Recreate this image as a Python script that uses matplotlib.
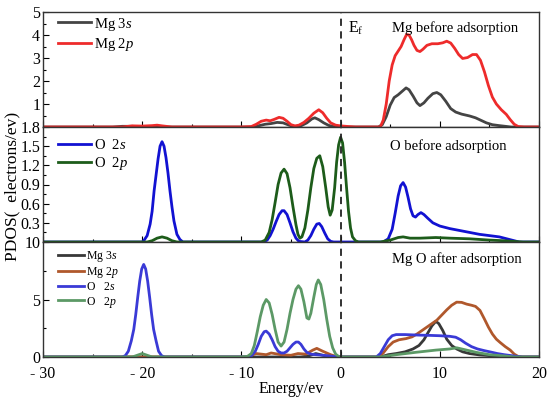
import matplotlib
matplotlib.use("Agg")
import matplotlib.pyplot as plt
from matplotlib.ticker import MultipleLocator

plt.rcParams['font.family'] = ['Liberation Serif', 'DejaVu Serif']
plt.rcParams['mathtext.fontset'] = 'custom'
plt.rcParams['mathtext.rm'] = 'Liberation Serif'
plt.rcParams['mathtext.it'] = 'Liberation Serif:italic'

# ---------------- data ----------------
# Panel 1: Mg before adsorption
mg3s_before_x = [-30, -23, -22, -21, -20, -12, -9, -8.3, -7.6, -7.0, -6.4, -5.8, -5.2, -4.6, -4.0, -3.4, -2.9, -2.6, -2.2, -1.7, -1.2, -0.6, 0,
                 3.8, 4.2, 4.6, 5.0, 5.4, 5.8, 6.2, 6.6, 6.9, 7.3, 7.7, 8.0, 8.4, 8.8, 9.3, 9.7, 10.1, 10.6, 11.1, 11.6, 12.2,
                 13.0, 13.6, 14.2, 14.7, 15.3, 16.0, 16.6, 17.2, 20]
mg3s_before_y = [0, 0, 0.03, 0.03, 0, 0, 0, 0.05, 0.12, 0.15, 0.2, 0.18, 0.08, 0.01, 0.05, 0.18, 0.35, 0.4, 0.32, 0.18, 0.07, 0.01, 0,
                 0, 0.1, 0.45, 0.95, 1.28, 1.4, 1.55, 1.70, 1.62, 1.35, 1.05, 0.93, 1.05, 1.25, 1.45, 1.5, 1.4, 1.12, 0.8, 0.65, 0.56,
                 0.48, 0.4, 0.28, 0.18, 0.1, 0.06, 0.03, 0, 0]
mg2p_before_x = [-30, -22, -21, -20, -19, -18.5, -18, -17, -10, -9, -8.5, -8.0, -7.5, -7.1, -6.7, -6.2, -5.8, -5.4, -5.0, -4.6, -4.2, -3.7,
                 -3.2, -2.7, -2.2, -1.8, -1.4, -1.0, -0.5, 0, 0.8, 1.5,
                 4.0, 4.3, 4.6, 4.9, 5.2, 5.5, 5.8, 6.1, 6.4, 6.65, 6.9, 7.15, 7.4, 7.7, 8.0, 8.3, 8.7, 9.2, 9.8, 10.3, 10.7,
                 11.1, 11.5, 11.9, 12.3, 12.8, 13.3, 13.7, 14.1, 14.5, 14.9, 15.3, 15.7, 16.2, 16.7, 17.1, 17.5, 17.9, 18.5, 20]
mg2p_before_y = [0, 0, 0.05, 0.04, 0.06, 0.08, 0.05, 0, 0, 0.02, 0.12, 0.25, 0.3, 0.27, 0.33, 0.42, 0.38, 0.25, 0.1, 0.05, 0.08, 0.2,
                 0.38, 0.6, 0.75, 0.62, 0.38, 0.18, 0.08, 0.05, 0.02, 0,
                 0, 0.3, 1.0, 2.0, 2.7, 3.1, 3.3, 3.5, 3.8, 4.02, 4.0, 3.8, 3.55, 3.33, 3.28, 3.38, 3.55, 3.62, 3.62, 3.66, 3.73,
                 3.65, 3.42, 3.15, 2.98, 3.02, 3.15, 3.15, 2.9, 2.4, 1.8, 1.3, 1.0, 0.75, 0.55, 0.32, 0.12, 0.02, 0, 0]

# Panel 2: O before adsorption
o2s_before_x = [-30, -20.0, -19.8, -19.5, -19.2, -19.0, -18.8, -18.6, -18.4, -18.2, -18.0, -17.8, -17.6, -17.4, -17.2, -17.0, -16.8,
                -16.5, -16.2, -15.9,
                -7.8, -7.4, -7.1, -6.8, -6.5, -6.2, -5.9, -5.7, -5.4, -5.1, -4.8, -4.5, -4.2, -3.6, -3.3, -3.0, -2.7, -2.4,
                -2.15, -1.9, -1.6, -1.3, -1.0, -0.7,
                4.3, 4.8, 5.2, 5.5, 5.8, 6.05, 6.3, 6.55, 6.8, 7.05, 7.3, 7.55, 7.8, 8.1, 8.4, 8.8, 9.3, 10.0, 11.0, 12.0,
                13.0, 14.0, 15.0, 16.0, 17.0, 17.5, 18.0, 20]
o2s_before_y = [0, 0, 0.03, 0.1, 0.28, 0.48, 0.8, 1.05, 1.3, 1.5, 1.57, 1.5, 1.32, 1.08, 0.8, 0.55, 0.33,
                0.12, 0.04, 0,
                0, 0.03, 0.1, 0.2, 0.32, 0.43, 0.49, 0.49, 0.43, 0.3, 0.16, 0.06, 0.01, 0.0, 0.03, 0.1, 0.2, 0.28,
                0.29, 0.24, 0.14, 0.05, 0.01, 0,
                0, 0.05, 0.2, 0.45, 0.72, 0.88, 0.93, 0.86, 0.7, 0.52, 0.41, 0.39, 0.43, 0.46, 0.43, 0.37, 0.3, 0.25, 0.21, 0.18,
                0.15, 0.12, 0.1, 0.08, 0.04, 0.02, 0, 0]
o2p_before_x = [-30, -19.5, -19, -18.5, -18, -17.5, -17, -16.5,
                -8.0, -7.6, -7.2, -6.9, -6.6, -6.3, -6.0, -5.7, -5.4, -5.1, -4.8, -4.5, -4.3, -4.1, -3.9, -3.6, -3.3, -3.0,
                -2.7, -2.4, -2.1, -1.8, -1.5, -1.25, -1.05, -0.85, -0.6, -0.4, -0.2, 0.0, 0.2, 0.4, 0.6, 0.8, 1.0, 1.2, 1.5, 1.8,
                4, 5, 5.8, 6.3, 7, 8, 9.6, 11, 13, 15, 16.4, 18.4, 20]
o2p_before_y = [0, 0, 0.02, 0.06, 0.08, 0.06, 0.02, 0,
                0, 0.03, 0.15, 0.35, 0.62, 0.9, 1.08, 1.14, 1.07, 0.85, 0.55, 0.27, 0.12, 0.06, 0.08, 0.22, 0.5, 0.85,
                1.15, 1.31, 1.35, 1.18, 0.85, 0.55, 0.42, 0.5, 0.85, 1.25, 1.52, 1.64, 1.55, 1.25, 0.85, 0.48, 0.22, 0.08, 0.02, 0,
                0, 0.03, 0.07, 0.08, 0.06, 0.06, 0.07, 0.06, 0.05, 0.03, 0.02, 0, 0]

# Panel 3: Mg O after adsorption
mg3s_after_x = [-30, -4.0, -3.2, -2.5, -1.8, -1.0, 4.0, 4.8, 5.6, 6.5, 7.3, 7.9, 8.4, 8.8, 9.2, 9.6, 9.9, 10.3, 10.7, 11.2, 11.7,
                12.3, 13.0, 14.0, 15.0, 16.0, 17.0, 20]
mg3s_after_y = [0, 0, 0.1, 0.3, 0.15, 0, 0, 0.2, 0.3, 0.45, 0.7, 1.0, 1.5, 2.1, 2.7, 3.1, 2.9, 2.3, 1.55, 1.0, 0.7,
                0.45, 0.3, 0.18, 0.12, 0.06, 0, 0]
mg2p_after_x = [-30, -9.5, -8.5, -7.5, -7.0, -6.0, -5.0, -4.3, -3.5, -2.8, -2.4, -1.8, -1.0, -0.3,
                3.8, 4.3, 4.8, 5.3, 5.9, 6.6, 7.2, 7.7, 8.2, 8.7, 9.2, 9.7, 10.2, 10.7, 11.2, 11.7, 12.2, 12.7, 13.2, 13.6,
                14.05, 14.5, 14.9, 15.3, 15.7, 16.1, 16.6, 17.1, 17.5, 17.9, 18.3, 20]
mg2p_after_y = [0, 0, 0.3, 0.2, 0.35, 0.2, 0.15, 0.3, 0.25, 0.6, 0.75, 0.5, 0.2, 0,
                0, 0.35, 0.9, 1.3, 1.5, 1.6, 1.75, 2.0, 2.3, 2.6, 2.9, 3.2, 3.65, 4.1, 4.5, 4.77, 4.75, 4.6, 4.5, 4.4,
                4.05, 3.3, 2.6, 2.0, 1.55, 1.25, 0.9, 0.6, 0.25, 0.05, 0, 0]
o2s_after_x = [-30, -22.0, -21.7, -21.4, -21.1, -20.85, -20.65, -20.45, -20.25, -20.05, -19.85, -19.65, -19.45, -19.25, -19.05,
               -18.85, -18.6, -18.35, -18.05, -17.75,
               -9.6, -9.0, -8.6, -8.3, -8.0, -7.7, -7.5, -7.2, -6.9, -6.6, -6.3, -6.0, -5.7, -5.4, -5.1, -4.8, -4.5, -4.25,
               -4.0, -3.7, -3.4, -3.0, -2.5, -1.8, -1.0, -0.4, 0,
               3.6, 4.0, 4.4, 4.8, 5.2, 5.6, 6.5, 8.0, 9.0, 10.0, 11.0, 11.6, 12.1, 12.6, 13.2, 13.8, 14.5, 15.2, 15.8, 16.5,
               17.2, 17.8, 18.3, 20]
o2s_after_y = [0, 0, 0.12, 0.5, 1.4, 2.4, 3.7, 5.2, 6.6, 7.65, 8.05, 7.65, 6.6, 5.2, 3.7,
               2.4, 1.4, 0.5, 0.12, 0,
               0, 0.1, 0.5, 1.1, 1.8, 2.2, 2.25, 2.0, 1.5, 0.9, 0.5, 0.35, 0.35, 0.5, 0.8, 1.1, 1.3, 1.3,
               1.1, 0.7, 0.4, 0.25, 0.2, 0.15, 0.08, 0.02, 0,
               0, 0.3, 0.9, 1.5, 1.85, 1.95, 1.95, 1.9, 1.88, 1.85, 1.8, 1.72, 1.5, 1.2, 0.9, 0.7, 0.55, 0.42, 0.3, 0.2,
               0.12, 0.05, 0, 0]
o2p_after_x = [-30, -21, -20.5, -20.0, -19.5, -19.0,
               -10, -9.4, -9.0, -8.7, -8.4, -8.1, -7.8, -7.5, -7.2, -6.9, -6.6, -6.3, -6.0, -5.7, -5.4, -5.1, -4.8, -4.5, -4.25,
               -4.0, -3.7, -3.4, -3.2, -3.0, -2.7, -2.45, -2.25, -2.0, -1.7, -1.4, -1.1, -0.8, -0.5, -0.2, 0,
               4.0, 5.6, 7.5, 9.6, 11.0, 11.7, 12.7, 13.7, 15.0, 16.4, 17.5, 20]
o2p_after_y = [0, 0, 0.15, 0.3, 0.15, 0,
               0, 0.05, 0.3, 1.0, 2.2, 3.5, 4.5, 5.0, 4.7, 3.7, 2.4, 1.3, 0.95, 1.3, 2.4, 3.8, 5.0, 5.9, 6.2,
               5.9, 4.8, 3.4, 3.3, 3.8, 5.2, 6.3, 6.7, 6.3, 5.0, 3.3, 1.8, 0.8, 0.25, 0.05, 0,
               0, 0.2, 0.4, 0.6, 0.7, 0.8, 0.6, 0.4, 0.2, 0.1, 0, 0]

x_ticks = [-30, -20, -10, 0, 10, 20]
x_tick_labels = ['- 30', '- 20', '- 10', '0', '10', '20']
p1_yticks = [1, 2, 3, 4, 5]
p2_yticks = [0.3, 0.6, 0.9, 1.2, 1.5, 1.8]
p3_yticks = [0, 5, 10]

# ---------------- figure ----------------
fig = plt.figure(figsize=(5.5, 3.98), dpi=100)
left, right = 43 / 550, 539 / 550
top_px, bot_px = 12, 357
h_px = (bot_px - top_px) / 3
axes = []
for i in range(3):
    y0 = 1 - (top_px + (i + 1) * h_px) / 398
    ax = fig.add_axes([left, y0, right - left, h_px / 398])
    axes.append(ax)
ax1, ax2, ax3 = axes

lw = 2.0
ax1.plot(mg3s_before_x, mg3s_before_y, color='#444444', lw=lw, label=r'Mg 3$s$')
ax1.plot(mg2p_before_x, mg2p_before_y, color='#ee2b2b', lw=lw, label=r'Mg 2$p$')
ax1.set_ylim(0, 5)
ax1.set_yticks(p1_yticks)
ax1.yaxis.set_minor_locator(MultipleLocator(0.5))

ax2.plot(o2s_before_x, o2s_before_y, color='#1212d2', lw=lw, label=r'O  2$s$')
ax2.plot(o2p_before_x, o2p_before_y, color='#1d5c1a', lw=lw, label=r'O  2$p$')
ax2.set_ylim(0, 1.8)
ax2.set_yticks(p2_yticks)
ax2.set_yticklabels(['0.3', '0.6', '0.9', '1.2', '1.5', '1.8'])
ax2.yaxis.set_minor_locator(MultipleLocator(0.15))

ax3.plot(mg3s_after_x, mg3s_after_y, color='#383838', lw=lw, label=r'Mg 3$s$')
ax3.plot(mg2p_after_x, mg2p_after_y, color='#b0582c', lw=lw, label=r'Mg 2$p$')
ax3.plot(o2s_after_x, o2s_after_y, color='#3a3ad6', lw=lw, label=r'O   2$s$')
ax3.plot(o2p_after_x, o2p_after_y, color='#5c9966', lw=lw, label=r'O   2$p$')
ax3.set_ylim(0, 10)
ax3.set_yticks(p3_yticks)
ax3.yaxis.set_minor_locator(MultipleLocator(2.5))

for ax in axes:
    ax.set_xlim(-30, 20)
    ax.set_xticks(x_ticks)
    ax.xaxis.set_minor_locator(MultipleLocator(5))
    ax.tick_params(which='both', direction='in', top=False, right=False, labelsize=11.5, pad=2)
    ax.tick_params(which='major', length=4, width=0.8)
    ax.tick_params(which='minor', length=2, width=0.8)
    ax.axvline(0, color='#222222', lw=1.3, ls=(0, (4, 3)))
    for s in ax.spines.values():
        s.set_linewidth(1.0)
        s.set_color('#333333')
ax1.tick_params(labelbottom=False)
ax2.tick_params(labelbottom=False)
ax3.set_xticklabels(x_tick_labels)
ax3.tick_params(axis='x', pad=6.6)

ax1.legend(loc='upper left', bbox_to_anchor=(0.018, 1.02), frameon=False, fontsize=10.5,
           handlelength=2.3, handletextpad=0.2, labelspacing=0.25, borderaxespad=0)
ax2.legend(loc='upper left', bbox_to_anchor=(0.018, 0.957), frameon=False, fontsize=10.5,
           handlelength=2.3, handletextpad=0.2, labelspacing=0.25, borderaxespad=0)
ax3.legend(loc='upper left', bbox_to_anchor=(0.02, 0.98), frameon=False, fontsize=8.5,
           handlelength=2.2, handletextpad=0.2, labelspacing=0.1, borderaxespad=0)

ax1.text(0.704, 0.86, 'Mg before adsorption', transform=ax1.transAxes, fontsize=10.5, ha='left', va='center')
ax1.text(0.7, 0.86, r'E$_\mathrm{f}$', transform=ax1.get_xaxis_transform(), fontsize=11.5,
         ha='left', va='center')
ax2.text(0.70, 0.83, 'O before adsorption', transform=ax2.transAxes, fontsize=10.5, ha='left', va='center')
ax3.text(0.704, 0.85, 'Mg O after adsorption', transform=ax3.transAxes, fontsize=10.5, ha='left', va='center')

ax3.set_xlabel('Energy/ev', fontsize=11.5, labelpad=-1)
fig.text(12 / 550, 1 - 186 / 398, 'PDOS(  electrons/ev)', rotation=90, fontsize=12.5,
         ha='center', va='center')

fig.savefig('out.png', dpi=100)
